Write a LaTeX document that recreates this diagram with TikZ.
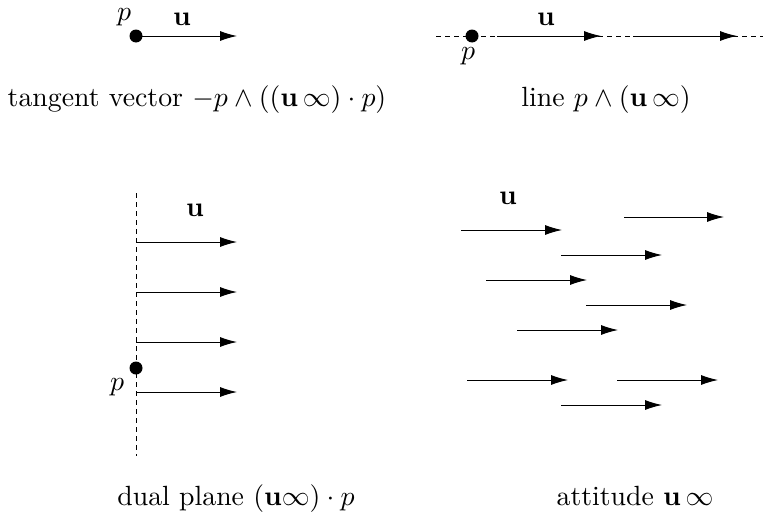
\documentclass[tikz,border=0pt]{standalone}
\usepackage{amsmath}
\usepackage{graphicx}
\usetikzlibrary{arrows.meta}
\newcommand{\bigtxt}[1]{\scalebox{2.78}{#1}}
\begin{document}
\begin{tikzpicture}[x=1pt,y=-1pt,
  vec/.style={line width=0.9pt,-{Latex[length=17pt,width=10pt]}},
  dashline/.style={line width=0.9pt,dash pattern=on 5pt off 4pt},
  dot/.style={circle,fill=black,inner sep=0pt,minimum size=13pt},
  lab/.style={inner sep=0pt},
  captext/.style={inner sep=0pt,anchor=base}]
\useasboundingbox (0,0) rectangle (765,522);
% tangent vector
\node[dot] (tp) at (136,36) {};
\coordinate (te) at (237,36);
\draw[vec] (tp.center) -- (te);
\node[lab] (tpl) at (124,17) {\bigtxt{$p$}};
\node[lab] (tul) at (182,19) {\bigtxt{$\mathbf{u}$}};
\node[captext] (tcap) at (197,106) {\bigtxt{tangent vector $-p\wedge((\mathbf{u}\,\infty)\cdot p)$}};
% line
\coordinate (la) at (436,36);
\coordinate (lb) at (763,36);
\draw[dashline] (la) -- (lb);
\node[dot] (lp) at (472,36) {};
\coordinate (l1s) at (497,36);
\coordinate (l1e) at (601,36);
\coordinate (l2s) at (633,36);
\coordinate (l2e) at (737,36);
\draw[vec] (l1s) -- (l1e);
\draw[vec] (l2s) -- (l2e);
\node[lab] (lpl) at (468,56) {\bigtxt{$p$}};
\node[lab] (lul) at (546,19) {\bigtxt{$\mathbf{u}$}};
\node[captext] (lcap) at (606,106) {\bigtxt{line $p\wedge(\mathbf{u}\,\infty)$}};
% dual plane
\coordinate (da) at (136,193);
\coordinate (db) at (136,456);
\draw[dashline] (da) -- (db);
\foreach \y/\n in {242/1,292/2,342/3,392/4}{
  \coordinate (ds\n) at (136,\y);
  \coordinate (de\n) at (237,\y);
  \draw[vec] (ds\n) -- (de\n);
}
\node[dot] (dp) at (136,368) {};
\node[lab] (dpl) at (117,387) {\bigtxt{$p$}};
\node[lab] (dul) at (195,210) {\bigtxt{$\mathbf{u}$}};
\node[captext] (dcap) at (236,505) {\bigtxt{dual plane $(\mathbf{u}\infty)\cdot p$}};
% attitude
\foreach \xs/\xe/\y/\n in {461/562/230/1,624/724/217/2,561/662/255/3,486/587/280/4,586/687/305/5,517/618/330/6,467/568/380/7,617/718/380/8,561/662/405/9}{
  \coordinate (as\n) at (\xs,\y);
  \coordinate (ae\n) at (\xe,\y);
  \draw[vec] (as\n) -- (ae\n);
}
\node[lab] (aul) at (508,198) {\bigtxt{$\mathbf{u}$}};
\node[captext] (acap) at (635,505) {\bigtxt{attitude $\mathbf{u}\,\infty$}};
\end{tikzpicture}
\end{document}
